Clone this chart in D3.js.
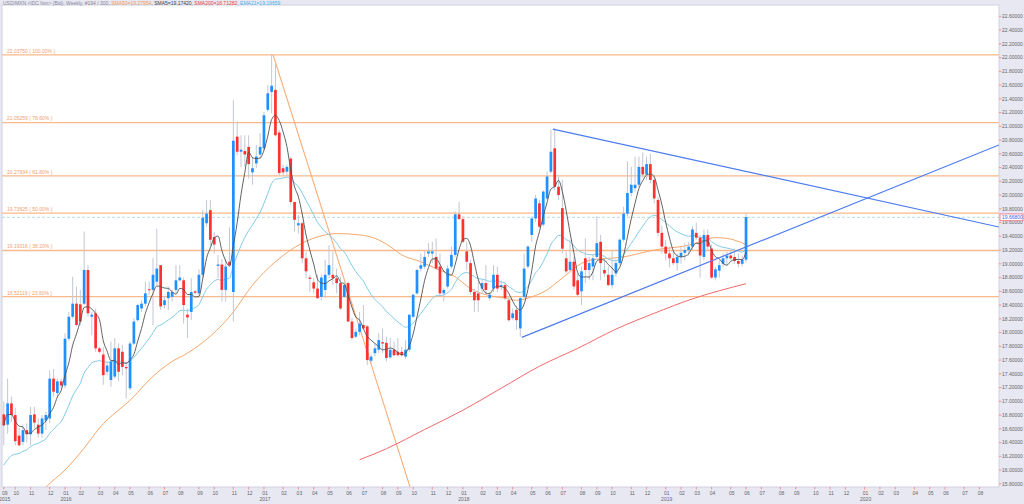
<!DOCTYPE html>
<html><head><meta charset="utf-8">
<script src="https://cdn.jsdelivr.net/npm/d3@7"></script>
<style>
html,body{margin:0;padding:0;background:#e8e8f2;}
svg{display:block;font-family:"Liberation Sans",Arial,sans-serif;}
</style></head><body>
<svg id="chart" width="1024" height="504"></svg>
<script>
// ---------- DATA ----------
const startDate = "2015-09-14";           // first weekly bar (Monday)
const opens = [16.81,16.66,16.97,16.80,16.50,16.41,16.58,16.52,16.81,16.66,
16.53,16.72,16.75,17.33,17.12,17.29,17.23,17.91,18.23,18.42,
18.41,18.42,18.91,18.23,18.28,17.77,17.68,17.43,17.31,17.36,
17.77,17.72,17.50,17.19,17.84,18.18,18.35,18.42,18.63,18.62,
18.74,18.98,18.40,18.50,18.52,18.62,18.76,18.76,18.26,18.30,
18.60,18.57,18.84,19.59,19.78,19.39,18.97,18.99,18.62,19.03,
18.59,20.85,20.63,20.64,20.70,20.33,20.46,20.59,20.68,21.24,
21.50,21.53,20.91,20.39,20.34,20.53,19.90,19.56,19.59,19.08,
18.80,18.73,18.64,18.52,18.62,18.84,18.84,18.79,18.72,18.52,
18.72,18.16,17.94,18.01,18.11,18.09,17.59,17.70,17.75,17.86,
17.85,17.64,17.75,17.72,17.72,17.65,17.75,18.23,18.57,18.93,
18.96,19.15,19.15,19.10,18.96,18.57,18.67,18.96,19.13,19.72,
19.65,19.18,19.01,18.59,18.57,18.64,18.72,18.50,18.64,18.84,
18.67,18.69,18.47,18.21,18.33,18.06,18.52,18.96,19.42,19.66,
19.88,19.57,19.95,20.34,20.68,20.12,19.81,19.08,18.91,19.03,
18.76,18.60,19.08,18.91,18.96,19.10,19.32,18.91,18.84,18.69,
18.86,19.01,19.35,19.73,20.03,20.10,20.15,20.41,20.30,20.45,
20.22,19.93,19.45,19.25,19.15,19.08,19.01,19.10,19.16,19.20,
19.25,19.45,19.38,19.10,19.42,19.22,18.80,18.90,19.00,19.08,
19.12,19.10,19.04,19.00,19.06];
const highs = [17.00,17.33,17.07,16.90,16.61,16.66,16.68,16.92,16.92,16.75,
16.80,16.85,17.45,17.47,17.33,17.33,17.99,18.30,18.81,18.67,
18.62,19.47,18.98,18.30,18.35,17.79,17.79,17.58,17.87,17.92,
17.84,17.82,17.58,17.87,18.21,18.42,18.47,18.74,18.74,19.08,
19.51,18.98,18.52,18.67,18.62,18.98,18.98,18.80,18.35,18.79,
18.62,18.92,19.78,19.93,19.93,19.46,19.13,19.07,19.07,19.53,
21.38,21.07,20.87,20.87,20.87,20.56,20.73,20.90,21.21,21.60,
22.04,21.90,20.95,20.44,20.44,20.56,19.90,19.71,19.61,19.17,
18.84,18.79,18.84,18.84,19.06,19.27,19.18,18.93,18.81,18.74,
18.74,18.21,18.06,18.30,18.40,18.11,17.68,17.84,17.99,18.06,
17.94,17.92,17.87,17.92,17.79,17.89,18.26,18.57,18.93,19.15,
19.20,19.30,19.32,19.37,19.15,18.64,18.98,19.25,19.76,19.90,
19.69,19.32,19.06,18.64,18.76,18.76,18.98,18.59,18.98,18.96,
18.76,18.74,18.52,18.35,18.38,18.52,19.15,19.27,19.69,20.00,
19.93,20.07,20.34,20.95,20.97,20.27,20.22,19.18,19.35,19.10,
18.86,18.96,19.37,19.10,19.13,19.69,19.42,19.06,18.96,19.20,
19.06,19.37,19.83,20.49,20.41,20.56,20.56,20.62,20.56,20.60,
20.30,19.98,19.55,19.35,19.25,19.20,19.15,19.25,19.30,19.32,
19.55,19.60,19.42,19.50,19.50,19.28,18.95,19.05,19.15,19.18,
19.20,19.22,19.15,19.12,19.73];
const lows = [16.36,16.53,16.70,16.36,16.34,16.36,16.40,16.36,16.61,16.47,
16.47,16.58,16.68,17.07,17.07,17.19,17.19,17.88,18.20,18.09,
18.11,18.40,18.23,17.96,17.72,17.70,17.24,17.38,17.21,17.33,
17.29,17.38,17.04,17.16,17.82,18.16,18.30,18.38,18.55,18.11,
18.69,18.33,18.35,18.33,18.45,18.57,18.74,18.13,17.92,18.18,
18.55,18.50,18.79,19.54,19.27,19.15,18.79,18.45,18.45,18.96,
18.16,20.58,20.41,20.41,20.24,20.15,20.39,20.53,20.63,21.21,
21.19,20.85,20.29,20.29,20.29,19.86,19.47,19.44,19.01,18.79,
18.59,18.57,18.49,18.47,18.50,18.79,18.69,18.57,18.33,18.50,
18.16,17.89,17.92,17.96,18.06,17.53,17.55,17.65,17.70,17.70,
17.58,17.62,17.65,17.65,17.65,17.62,17.72,18.21,18.55,18.89,
18.93,19.10,19.01,18.91,18.52,18.45,18.64,18.93,19.10,19.64,
19.30,18.91,18.55,18.30,18.30,18.57,18.57,18.47,18.59,18.59,
18.62,18.47,18.16,18.18,18.04,17.94,18.50,18.93,19.32,19.61,
19.52,19.54,19.93,20.31,20.07,19.93,19.15,18.86,18.89,18.62,
18.52,18.40,18.72,18.76,18.76,19.06,18.76,18.81,18.67,18.64,
18.81,18.98,19.32,19.69,19.98,20.05,20.12,20.25,20.22,20.17,
19.88,19.40,19.15,19.05,18.95,18.98,18.90,19.00,19.05,19.12,
19.20,19.35,18.80,19.05,19.20,18.78,18.76,18.80,18.95,18.98,
19.05,19.00,18.95,18.96,19.02];
const closes = [16.65,16.97,16.80,16.42,16.36,16.58,16.52,16.80,16.69,16.53,
16.75,16.80,17.33,17.14,17.29,17.23,17.91,18.23,18.42,18.11,
18.16,18.91,18.28,18.26,17.77,17.72,17.38,17.52,17.58,17.77,
17.43,17.50,17.48,17.84,18.16,18.40,18.42,18.57,18.62,18.84,
18.93,18.38,18.47,18.59,18.59,18.76,18.80,18.40,18.22,18.59,
18.58,18.84,19.67,19.73,19.35,19.28,18.99,18.62,18.96,18.98,
20.79,20.63,20.66,20.59,20.45,20.39,20.56,20.70,21.16,21.48,
21.59,20.87,20.32,20.33,20.41,19.90,19.64,19.59,19.08,18.89,
18.78,18.64,18.50,18.80,18.84,18.98,18.79,18.72,18.35,18.69,
18.16,17.92,18.01,18.13,18.06,17.60,17.65,17.77,17.89,17.84,
17.63,17.75,17.67,17.67,17.67,17.75,18.26,18.55,18.91,18.98,
19.10,19.18,19.18,18.93,18.57,18.62,18.93,19.13,19.72,19.65,
19.32,19.03,18.59,18.47,18.47,18.72,18.62,18.55,18.84,18.64,
18.69,18.50,18.18,18.28,18.18,18.50,18.93,19.25,19.66,19.95,
19.54,20.05,20.27,20.63,20.12,20.00,19.22,18.89,19.03,18.67,
18.55,18.89,18.91,19.01,19.08,19.30,19.01,18.86,18.69,18.84,
19.01,19.35,19.73,20.03,20.15,20.15,20.41,20.30,20.45,20.22,
19.95,19.45,19.25,19.15,19.08,19.01,19.10,19.16,19.20,19.25,
19.50,19.38,19.12,19.42,19.25,18.80,18.92,18.98,19.08,19.12,
19.08,19.04,19.00,19.06,19.68];

// moving averages (bar index, value)
const sma50Pts = [[9,15.62],[11,15.75],[16,16.00],[21,16.32],[25,16.61],[34,17.07],[38,17.31],[44,17.58],[48,17.70],
[60,18.30],[65,18.69],[71,19.03],[78,19.30],[84,19.42],[87,19.44],[93,19.42],[97,19.37],[101,19.25],[104,19.13],
[109,19.03],[113,18.93],[118,18.81],[122,18.64],[126,18.55],[131,18.50],[134,18.47],[138,18.52],[142,18.62],
[145,18.75],[153,19.05],[162,19.10],[170,19.20],[179,19.27],[186,19.38],[189,19.37],[194,19.28]];
const sma200Pts = [[93,16.15],[100,16.31],[110,16.59],[120,16.87],[130,17.19],[140,17.51],[150,17.77],
[160,18.05],[170,18.28],[180,18.49],[194,18.71]];
const ema21Seed = 16.07;

const fibLevels = [22.03750, 21.05259, 20.27934, 19.73625, 19.19316, 18.52119];
const fibLabels = ["22.03750 ( 100.00% )","21.05259 ( 78.60% )","20.27934 ( 61.80% )",
                   "19.73625 ( 50.00% )","19.19316 ( 38.20% )","18.52119 ( 23.60% )"];
const fibAnchors = [[70.4, 22.0375],[96.6, 17.4351]];   // bar index, price
const triUpper = [[143.5, 20.96],[260.1, 19.535]];
const triLower = [[135.4, 17.93],[260.1, 20.728]];
const lastPrice = 19.676;
const lastPriceLabel = "19.66800";
const yTickMin = 15.8, yTickMax = 22.6, yTickStep = 0.2;
const headerParts = [
  {t:"USD/MXN <IDC fxm> (Bid), Weekly, #194 / 300, ", c:"#8a8a9a"},
  {t:"SMA50=19.27954", c:"#f39a55"}, {t:", ", c:"#8a8a9a"},
  {t:"SMA5=19.17420", c:"#444444"}, {t:", ", c:"#8a8a9a"},
  {t:"SMA200=18.71282", c:"#ee4444"}, {t:", ", c:"#8a8a9a"},
  {t:"EMA21=19.19659", c:"#45b6e8"}
];

// ---------- LAYOUT ----------
const W = 1024, H = 504;
const plot = {x0:2, x1:999, y0:5, y1:487};
const svg = d3.select("#chart");

const x = d3.scaleLinear().domain([-0.47, 260.12]).range([plot.x0, plot.x1]);
const y = d3.scaleLinear().domain([22.6, 15.8]).range([16.3, 483.8]);

const parse = d3.timeParse("%Y-%m-%d");
const d0 = parse(startDate);
const bars = closes.map((c,i)=>({i, o:opens[i], h:highs[i], l:lows[i], c}));

svg.append("rect").attr("x",0).attr("y",0).attr("width",W).attr("height",H).attr("fill","#e8e8f2");
svg.append("rect").attr("x",plot.x0).attr("y",plot.y0).attr("width",plot.x1-plot.x0).attr("height",plot.y1-plot.y0)
   .attr("fill","#ffffff").attr("stroke","#cfd0e2").attr("stroke-width",1);

svg.append("clipPath").attr("id","clip").append("rect")
   .attr("x",plot.x0).attr("y",plot.y0).attr("width",plot.x1-plot.x0).attr("height",plot.y1-plot.y0);
const g = svg.append("g").attr("clip-path","url(#clip)");

// fib lines
const fibColor = "#f9b98a";
fibLevels.forEach((lv,k)=>{
  g.append("line").attr("x1",plot.x0).attr("x2",plot.x1).attr("y1",y(lv)).attr("y2",y(lv))
   .attr("stroke",fibColor).attr("stroke-width",1.3);
  g.append("text").attr("x",7).attr("y",y(lv)-2.2).text(fibLabels[k])
   .attr("font-size",5).attr("fill","#f0a070");
});
// current price dashed line
g.append("line").attr("x1",plot.x0).attr("x2",plot.x1).attr("y1",y(lastPrice)).attr("y2",y(lastPrice))
 .attr("stroke","#b6dcdc").attr("stroke-width",1).attr("stroke-dasharray","3,2");

// fib diagonal (extended)
{
  const [a,b] = fibAnchors;
  const slope = (b[1]-a[1])/(b[0]-a[0]);
  const iEnd = a[0] + (15.0 - a[1])/slope;
  g.append("line").attr("x1",x(a[0])).attr("y1",y(a[1])).attr("x2",x(iEnd)).attr("y2",y(15.0))
   .attr("stroke","#f9ae7a").attr("stroke-width",1.1);
}

// moving averages
const lineGen = d3.line().x(d=>x(d[0])).y(d=>y(d[1])).curve(d3.curveMonotoneX);
const sma5 = bars.map((b,i)=>{const s=closes.slice(Math.max(0,i-4),i+1);return [i,d3.mean(s)];});
const k = 2/22; let e = ema21Seed;
const ema21 = bars.map((b,i)=>{ if(i>0) e = e + k*(b.c-e); return [i,e];});
g.append("path").attr("d",lineGen(sma200Pts)).attr("fill","none").attr("stroke","#f26a6a").attr("stroke-width",1);
g.append("path").attr("d",lineGen(sma50Pts)).attr("fill","none").attr("stroke","#f6a76b").attr("stroke-width",1);
g.append("path").attr("d",lineGen(ema21)).attr("fill","none").attr("stroke","#7fcbe6").attr("stroke-width",1);

// candles
const cw = 2.7;
g.selectAll("line.wick").data(bars).enter().append("line").attr("class","wick")
 .attr("x1",d=>x(d.i)).attr("x2",d=>x(d.i)).attr("y1",d=>y(d.h)).attr("y2",d=>y(d.l))
 .attr("stroke","#c2c7d6").attr("stroke-width",1);
g.selectAll("rect.body").data(bars).enter().append("rect").attr("class","body")
 .attr("x",d=>x(d.i)-cw/2).attr("width",cw)
 .attr("y",d=>y(Math.max(d.o,d.c))).attr("height",d=>Math.max(1,Math.abs(y(d.o)-y(d.c))))
 .attr("fill",d=>d.c>=d.o?"#1e90ff":"#ff3030");

g.append("path").attr("d",lineGen(sma5)).attr("fill","none").attr("stroke","#505050").attr("stroke-width",0.9);

// triangle lines
[triUpper, triLower].forEach(t=>{
  g.append("line").attr("x1",x(t[0][0])).attr("y1",y(t[0][1])).attr("x2",x(t[1][0])).attr("y2",y(t[1][1]))
   .attr("stroke","#4c7cf0").attr("stroke-width",1.2);
});

// ---------- AXES ----------
const yTicks = d3.range(0, Math.round((yTickMax-yTickMin)/yTickStep)+1).map(j=>yTickMin+j*yTickStep);
const ya = svg.append("g");
yTicks.forEach(v=>{
  ya.append("line").attr("x1",plot.x1).attr("x2",plot.x1+2.5).attr("y1",y(v)).attr("y2",y(v)).attr("stroke","#f08080").attr("stroke-width",0.8);
  ya.append("text").attr("x",plot.x1+3).attr("y",y(v)+1.8).text(v.toFixed(5)).attr("font-size",5).attr("fill","#666");
});
// last price tag
ya.append("rect").attr("x",plot.x1+1).attr("y",y(lastPrice)-3.4).attr("width",23).attr("height",6.8)
  .attr("fill","#ffffff").attr("stroke","#f07080").attr("stroke-width",0.8);
ya.append("text").attr("x",plot.x1+3).attr("y",y(lastPrice)+1.8).text(lastPriceLabel).attr("font-size",5).attr("fill","#3a5cf0");

// bottom month axis
const xa = svg.append("g");
const nWeeks = 260;
let prevM = -1;
for(let i=0;i<=nWeeks;i++){
  const dt = d3.timeWeek.offset(d0, i);
  const m = dt.getMonth();
  if(m!==prevM){
    const px = x(i);
    if(px<=plot.x1-2){
      xa.append("line").attr("x1",px).attr("x2",px).attr("y1",plot.y1).attr("y2",plot.y1+2.5).attr("stroke","#f08080").attr("stroke-width",0.8);
      xa.append("text").attr("x",px+1).attr("y",plot.y1+7.5).attr("text-anchor","middle").text(d3.timeFormat("%m")(dt)).attr("font-size",5).attr("fill","#666");
      if(m===0 || i===0){
        xa.append("text").attr("x",px+1).attr("y",plot.y1+13.5).attr("text-anchor","middle").text(d3.timeFormat("%Y")(dt)).attr("font-size",5).attr("fill","#666");
      }
    }
    prevM = m;
  }
}

// header
const ht = svg.append("text").attr("x",3).attr("y",4.5).attr("font-size",5);
headerParts.forEach(p=>ht.append("tspan").text(p.t).attr("fill",p.c));
</script>
</body></html>
